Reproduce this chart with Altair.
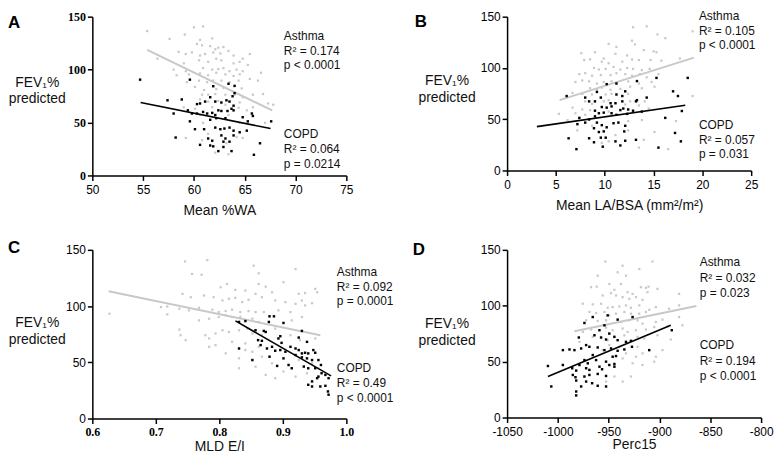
import altair as alt
import pandas as pd

# ---------------- data ----------------
# Panel A: Mean %WA vs FEV1 % predicted
A_ASTHMA = [(55.4,136.4),(60.0,139.9),(60.9,140.8),(59.1,133.1),(57.6,129.0),(60.6,128.1),(61.8,129.5),(60.3,124.2),(60.8,123.0),(61.6,122.2),
(62.1,119.2),(62.4,120.7),(62.9,121.3),(58.5,116.8),(59.2,114.7),(59.8,116.2),(60.6,113.3),(61.1,114.7),(61.9,116.2),(62.6,115.3),
(63.4,117.7),(63.9,113.3),(64.8,110.3),(65.5,114.7),(56.4,110.3),(59.0,105.9),(60.5,108.8),(61.4,107.3),(62.2,110.3),(62.7,108.8),
(63.9,105.9),(64.5,107.3),(65.3,104.4),(58.0,100.0),(59.2,98.5),(60.9,101.4),(61.8,100.0),(62.4,100.5),(62.9,101.4),(63.5,98.5),
(64.2,100.0),(64.8,98.5),(66.6,97.0),(58.3,94.6),(59.5,95.5),(60.6,96.4),(61.4,94.6),(62.2,97.0),(63.1,95.5),(63.9,94.0),
(64.5,95.5),(65.5,91.1),(66.3,89.6),(59.3,88.1),(60.5,89.6),(61.3,88.1),(61.9,89.6),(62.7,89.6),(63.5,88.1),(64.4,89.6),
(60.1,83.7),(61.0,80.7),(62.2,81.6),(62.9,82.8),(64.7,82.2),(65.8,76.3),(60.8,76.3),(61.4,76.3),(62.1,76.9),(63.1,76.3),
(64.0,76.3),(64.8,73.9),(66.8,76.9),(60.6,71.8),(61.4,69.8),(62.4,70.4),(63.1,66.8),(64.5,68.9),(67.3,68.0),(67.8,66.8),
(59.0,64.4),(60.1,63.0),(61.8,64.4),(64.4,63.9),(65.8,64.4),(60.6,57.1),(63.4,57.1),(65.2,61.5),(67.0,49.7),(60.9,49.7),
(64.5,49.7),(59.2,35.4),(61.4,39.3),(64.2,36.3),(60.8,33.4),(63.2,30.4),(64.8,35.4),(62.1,21.5),(63.4,20.1)]
A_COPD = [(54.7,90.5),(59.6,90.5),(61.9,84.3),(63.4,86.6),(64.0,84.6),(64.0,77.8),(63.8,74.8),(58.8,71.8),(57.4,71.0),(60.3,67.4),
(60.6,68.0),(61.1,69.8),(61.6,73.9),(62.1,69.8),(62.7,68.9),(63.2,71.0),(63.5,69.8),(63.9,65.9),(63.7,63.0),(63.9,61.5),
(63.3,60.9),(62.7,60.9),(62.4,61.5),(59.4,61.5),(59.8,58.5),(60.3,58.5),(60.9,60.0),(61.3,58.5),(61.8,59.1),(62.1,57.1),
(58.0,58.5),(61.6,52.6),(62.2,54.1),(63.1,54.1),(65.7,58.5),(65.8,56.2),(65.3,51.1),(64.8,55.0),(67.6,51.1),(59.6,51.1),
(60.1,43.7),(62.1,45.2),(62.6,43.7),(63.0,44.3),(63.5,45.2),(63.9,42.3),(64.5,40.8),(65.2,42.3),(62.7,37.8),(63.1,34.9),
(63.9,37.8),(58.2,35.8),(61.4,34.9),(61.8,32.8),(62.9,31.9),(63.5,31.9),(66.5,30.4),(60.6,28.9),(61.6,28.3),(61.9,27.5),
(62.9,26.9),(62.4,23.0),(63.7,23.0),(65.9,19.5),(61.0,43.7)]
A_FIT_ASTHMA = [(55.4,118.6),(67.7,61.5)]
A_FIT_COPD = [(54.75,68.9),(67.54,44.3)]
A_TEXT = ["Asthma","R² = 0.174","p < 0.0001","COPD","R² = 0.064","p = 0.0214"]
A_TEXT_Y = [127.5,113.4,100.3,35.6,21.6,7.5]
A_TEXT_X = 68.85

# Panel B: Mean LA/BSA
B_ASTHMA = [(12.9,139.7),(14.3,140.6),(15.4,132.7),(16.2,129.0),(19.0,135.7),(10.4,123.5),(12.8,126.6),(13.1,122.9),(11.2,120.5),(14.0,117.4),
(15.0,116.2),(15.3,115.3),(7.6,114.4),(9.0,115.3),(9.9,109.2),(11.1,113.8),(12.3,112.2),(7.9,107.7),(8.5,108.3),(9.7,106.1),
(10.4,104.6),(11.8,106.1),(12.8,108.3),(13.5,107.7),(14.7,107.7),(15.8,107.1),(17.7,109.2),(8.9,100.0),(9.4,98.5),(10.1,99.1),
(10.9,101.0),(11.6,98.5),(12.3,100.0),(12.9,99.1),(13.8,97.9),(14.6,99.1),(7.4,94.0),(8.0,94.9),(8.7,92.4),(9.6,93.0),
(10.6,93.0),(11.2,94.9),(12.1,94.0),(12.8,92.4),(13.6,94.0),(14.3,90.9),(15.5,94.0),(7.0,86.3),(7.7,87.8),(8.4,86.9),
(9.2,84.8),(9.9,86.3),(10.7,86.9),(12.4,86.9),(13.5,84.8),(14.8,86.3),(8.5,80.2),(9.2,78.7),(9.7,80.8),(10.6,78.7),
(11.6,79.6),(12.6,81.7),(13.8,80.2),(15.1,81.7),(6.7,75.6),(7.7,74.7),(8.7,74.1),(10.1,74.1),(10.7,74.7),(12.4,74.7),
(8.0,67.4),(8.7,65.0),(9.9,67.4),(10.4,68.6),(12.6,67.4),(14.1,67.4),(6.7,61.3),(7.7,59.5),(8.5,58.9),(10.4,57.4),
(12.1,64.4),(13.5,63.4),(14.5,60.4),(5.3,55.2),(7.0,55.8),(8.0,54.3),(8.7,43.6),(12.4,48.2),(13.8,49.1),(15.1,37.5),
(12.4,39.1),(11.1,34.5),(10.4,28.4),(14.0,29.9),(17.3,48.2),(19.0,72.6),(7.2,39.1),(6.2,49.1),(9.7,26.9),(16.5,20.8),
(13.5,22.3)]
B_COPD = [(6.1,72.6),(15.3,90.3),(18.5,90.3),(13.3,87.2),(10.2,84.2),(11.2,84.8),(17.0,77.2),(17.5,72.6),(8.0,71.1),(9.2,76.6),
(9.6,71.1),(11.2,74.1),(11.8,72.6),(12.1,77.2),(14.3,71.1),(13.3,68.6),(13.2,67.4),(8.4,67.4),(9.0,67.4),(10.6,65.6),
(11.1,65.6),(11.8,67.4),(9.7,61.9),(10.2,61.3),(10.7,62.5),(11.6,58.9),(11.9,60.4),(12.4,59.5),(12.9,58.3),(13.8,57.4),
(9.0,58.3),(9.4,55.8),(9.9,56.4),(10.7,55.8),(11.2,54.3),(12.3,55.2),(7.4,51.3),(8.4,49.7),(9.0,52.8),(17.9,58.0),
(16.2,51.3),(7.2,45.2),(8.0,46.7),(9.2,46.7),(9.7,44.2),(10.2,42.1),(10.9,46.1),(11.4,46.7),(12.1,43.6),(8.9,41.2),
(9.4,37.5),(9.9,38.1),(9.6,32.0),(10.1,32.0),(8.4,31.4),(6.3,31.4),(12.0,38.1),(17.2,36.6),(11.1,28.4),(12.1,29.0),
(13.2,29.9),(8.9,27.5),(11.6,24.4),(9.8,23.2),(15.5,22.3),(7.1,20.8),(17.8,28.4)]
B_FIT_ASTHMA = [(5.38,68.6),(19.14,110.1)]
B_FIT_COPD = [(3.05,42.8),(18.25,63.6)]
B_TEXT = ["Asthma","R² = 0.105","p < 0.0001","COPD","R² = 0.057","p = 0.031"]
B_TEXT_Y = [146.4,131.9,118.4,40.4,25.5,11.9]
B_TEXT_X = 19.65

# Panel C: MLD E/I
C_ASTHMA = [(0.746,139.7),(0.781,140.9),(0.854,135.9),(0.862,129.1),(0.920,132.9),(0.757,128.5),(0.772,127.9),(0.802,116.7),(0.812,119.7),(0.825,114.4),
(0.841,113.8),(0.862,119.7),(0.873,117.3),(0.883,112.3),(0.901,121.2),(0.925,110.9),(0.935,111.5),(0.951,115.3),(0.954,112.3),(0.742,110.9),
(0.755,107.9),(0.776,109.4),(0.791,107.9),(0.805,105.0),(0.815,106.5),(0.825,107.3),(0.836,103.5),(0.846,105.6),(0.857,110.9),(0.867,107.9),
(0.888,105.0),(0.904,103.5),(0.920,102.0),(0.930,105.0),(0.946,102.6),(0.708,99.1),(0.718,99.7),(0.737,97.6),(0.752,96.2),(0.768,98.5),
(0.789,96.8),(0.799,94.7),(0.810,95.6),(0.820,96.8),(0.833,94.7),(0.846,95.6),(0.857,94.7),(0.870,94.7),(0.893,96.2),(0.912,94.7),
(0.935,100.6),(0.627,93.2),(0.718,92.6),(0.768,87.3),(0.784,88.8),(0.799,90.3),(0.810,91.8),(0.820,90.3),(0.833,90.3),(0.852,88.8),
(0.862,85.9),(0.914,87.3),(0.930,90.3),(0.739,74.1),(0.747,69.7),(0.778,74.1),(0.784,71.2),(0.794,75.6),(0.805,78.5),(0.815,77.0),
(0.831,78.5),(0.844,80.0),(0.852,75.6),(0.888,80.0),(0.737,79.1),(0.794,65.3),(0.820,68.2),(0.841,66.8),(0.862,63.8),(0.852,59.4),
(0.867,55.0),(0.883,49.1),(0.857,46.2),(0.873,38.8),(0.888,35.9),(0.901,41.8),(0.920,37.3),(0.831,53.5),(0.831,44.7),(0.946,49.1),
(0.938,40.3),(0.956,44.7),(0.925,52.0),(0.912,74.1),(0.927,69.7),(0.951,71.2),(0.784,63.8),(0.810,57.9),(0.841,60.9),(0.867,74.1)]
C_COPD = [(0.879,90.9),(0.886,90.9),(0.878,85.9),(0.901,85.0),(0.841,86.7),(0.831,85.9),(0.870,77.9),(0.873,77.0),(0.896,73.2),(0.893,71.2),
(0.898,67.3),(0.930,77.9),(0.925,72.0),(0.938,68.2),(0.861,69.7),(0.867,69.1),(0.865,65.3),(0.875,62.3),(0.883,63.8),(0.888,60.3),
(0.896,60.9),(0.904,59.4),(0.912,63.8),(0.920,62.3),(0.925,60.9),(0.930,57.9),(0.935,58.5),(0.940,57.9),(0.948,60.9),(0.951,58.5),
(0.920,56.5),(0.930,54.4),(0.938,53.5),(0.946,52.0),(0.956,52.0),(0.960,47.6),(0.831,62.3),(0.879,55.0),(0.891,46.8),(0.909,47.6),
(0.914,44.7),(0.933,46.2),(0.940,44.7),(0.951,44.7),(0.961,40.3),(0.956,37.3),(0.967,38.8),(0.972,35.9),(0.954,35.9),(0.946,33.0),
(0.940,30.0),(0.946,28.5),(0.959,28.5),(0.967,29.1),(0.971,24.1),(0.972,21.2),(0.901,53.5),(0.857,78.5),(0.852,52.0)]
C_FIT_ASTHMA = [(0.6256,113.2),(0.959,74.1)]
C_FIT_COPD = [(0.8254,86.8),(0.976,37.9)]
C_TEXT = ["Asthma","R² = 0.092","p = 0.0001","COPD","R² = 0.49","p < 0.0001"]
C_TEXT_Y = [127.1,113.8,101.2,41.2,27.7,14.7]
C_TEXT_X = 0.985

# Panel D: Perc15
D_ASTHMA = [(-953.3,139.6),(-936.3,135.8),(-906.9,139.6),(-919.9,132.8),(-960.8,126.9),(-941.2,129.9),(-933.0,126.9),(-918.3,116.6),(-913.4,116.0),(-910.8,117.1),
(-967.3,116.6),(-961.8,117.1),(-949.4,119.5),(-944.4,114.2),(-937.9,119.5),(-931.4,112.1),(-926.5,110.6),(-911.8,112.1),(-902.0,115.1),(-880.7,110.6),
(-955.9,109.2),(-947.7,111.2),(-942.8,109.2),(-936.3,107.7),(-929.7,106.2),(-923.2,107.7),(-916.7,105.3),(-975.5,101.8),(-965.7,101.2),(-957.5,101.8),
(-951.0,98.2),(-946.1,98.8),(-939.5,99.4),(-933.0,100.3),(-928.1,98.2),(-919.9,100.3),(-910.1,96.4),(-903.6,98.8),(-890.5,97.3),(-880.7,100.3),
(-968.9,94.4),(-962.4,93.5),(-954.2,94.4),(-949.4,91.4),(-942.8,92.9),(-934.6,94.4),(-928.1,92.9),(-919.9,92.9),(-913.4,94.4),(-972.2,87.0),
(-960.8,86.4),(-952.6,87.0),(-937.9,85.5),(-929.7,87.0),(-921.6,87.0),(-916.7,84.0),(-903.6,85.5),(-897.1,87.6),(-880.7,89.9),(-967.3,78.7),
(-952.6,80.4),(-946.1,78.1),(-936.3,79.6),(-931.4,76.6),(-923.2,78.1),(-913.4,78.7),(-905.2,81.0),(-892.2,81.6),(-949.4,64.8),(-934.6,73.6),
(-921.6,72.2),(-915.0,70.7),(-902.0,73.6),(-888.9,69.8),(-978.8,67.7),(-939.5,63.3),(-921.6,63.3),(-916.7,57.4),(-903.6,54.4),(-897.1,60.3),
(-955.9,60.3),(-936.3,52.9),(-926.5,48.5),(-916.7,47.0),(-905.2,50.0),(-944.4,36.7),(-928.1,36.7),(-952.6,32.2),(-936.3,32.2),(-877.4,82.5),
(-965.7,72.2),(-975.5,76.6),(-951.0,69.2),(-933.0,57.4),(-923.2,54.4)]
D_COPD = [(-954.2,82.5),(-965.7,89.9),(-973.9,84.6),(-951.0,91.4),(-941.2,87.6),(-926.5,89.9),(-959.1,78.1),(-964.0,73.6),(-979.4,71.6),(-949.4,75.1),
(-944.4,72.2),(-957.5,71.6),(-952.6,69.8),(-941.2,69.2),(-933.0,67.7),(-928.1,68.6),(-988.6,60.9),(-995.1,60.3),(-983.7,60.3),(-977.1,61.8),
(-972.2,64.8),(-969.0,63.3),(-960.8,62.7),(-954.2,60.3),(-947.7,61.8),(-941.2,59.7),(-934.6,60.9),(-927.1,63.3),(-946.1,54.4),(-942.8,55.0),
(-965.7,55.9),(-973.9,51.4),(-962.4,51.4),(-952.6,50.0),(-949.4,47.0),(-944.4,47.9),(-978.8,47.0),(-970.6,48.5),(-985.9,44.1),(-982.0,42.0),
(-972.2,44.1),(-969.0,42.6),(-959.1,45.5),(-956.5,43.2),(-944.4,45.5),(-995.1,47.0),(-1009.8,46.1),(-985.3,38.1),(-982.7,36.1),(-973.9,36.7),
(-969.0,38.1),(-960.8,39.0),(-952.6,37.2),(-982.0,33.1),(-972.2,32.2),(-966.3,30.7),(-960.8,28.4),(-952.6,27.8),(-977.1,27.8),(-982.0,23.3),
(-982.0,19.8),(-1006.5,27.8),(-887.9,78.1),(-910.1,60.3)]
D_FIT_ASTHMA = [(-983.7,77.2),(-863.7,99.7)]
D_FIT_COPD = [(-1009.8,36.7),(-888.9,82.5)]
D_TEXT = ["Asthma","R² = 0.032","p = 0.023","COPD","R² = 0.194","p < 0.0001"]
D_TEXT_Y = [135.2,121.3,108.0,61.5,47.3,34.0]
D_TEXT_X = -860.4

Y_TICKS = [0, 50, 100, 150]
Y_TITLE = ["FEV\u2081%", "predicted"]

SANS = "Liberation Sans"
SERIF = "Liberation Serif"
GRAY_PT = "#c8c8c8"
GRAY_LINE = "#c8c8c8"


def df(points):
    return pd.DataFrame(points, columns=["x", "y"])


def panel(asthma, copd, fit_a, fit_c, xdom, xticks, xtitle, tx, ty, texts,
          letter, lx, ly, w, h, title_x, title_y, xlab_serif=False, ylab_serif=False,
          xfmt=None, xexpr=None, xtitle_pad=8, xlab_pad=4):
    xkw = dict(values=xticks, title=xtitle, labelPadding=xlab_pad, titlePadding=xtitle_pad,
               labelFlush=False)
    if xlab_serif:
        xkw.update(labelFont=SERIF, labelFontWeight="bold")
    if xfmt:
        xkw["format"] = xfmt
    if xexpr:
        xkw["labelExpr"] = xexpr
    ykw = dict(values=Y_TICKS, title=Y_TITLE, titleAngle=0, titleAlign="center",
               titleBaseline="top", titleX=title_x, titleY=title_y, titleLineHeight=17,
               labelPadding=2)
    if ylab_serif:
        ykw.update(labelFont=SERIF, labelFontWeight="bold")
    xaxis = alt.Axis(**xkw)
    yaxis = alt.Axis(**ykw)
    xs = alt.Scale(domain=xdom, nice=False, zero=False)
    ys = alt.Scale(domain=[0, 150], nice=False)
    X = alt.X("x:Q", scale=xs, axis=xaxis)
    Y = alt.Y("y:Q", scale=ys, axis=yaxis)

    pa = alt.Chart(df(asthma)).mark_square(size=5, color=GRAY_PT, opacity=1).encode(x=X, y=Y)
    la = alt.Chart(df(fit_a)).mark_line(color=GRAY_LINE, strokeWidth=2).encode(x=X, y=Y)
    pc = alt.Chart(df(copd)).mark_square(size=6, color="#000000", opacity=1).encode(x=X, y=Y)
    lc = alt.Chart(df(fit_c)).mark_line(color="#000000", strokeWidth=1.6).encode(x=X, y=Y)
    tdf = pd.DataFrame({"x": [tx] * len(texts), "y": ty, "t": texts})
    tt = alt.Chart(tdf).mark_text(align="left", baseline="alphabetic", fontSize=12,
                                  font=SANS, color="#111111").encode(x=X, y=Y, text="t:N")
    lt = alt.Chart(pd.DataFrame({"t": [letter]})).mark_text(
        align="left", baseline="alphabetic", fontSize=17, fontWeight="bold",
        font=SANS, color="#000000").encode(x=alt.value(lx), y=alt.value(ly), text="t:N")
    return alt.layer(pa, la, pc, lc, tt, lt).properties(width=w, height=h)


pA = panel(A_ASTHMA, A_COPD, A_FIT_ASTHMA, A_FIT_COPD, [50, 75], [50, 55, 60, 65, 70, 75],
           "Mean %WA", A_TEXT_X, A_TEXT_Y, A_TEXT, "A", -85, 11, 256, 160,
           title_x=-56, title_y=59, ylab_serif=True)
pB = panel(B_ASTHMA, B_COPD, B_FIT_ASTHMA, B_FIT_COPD, [0, 25], [0, 5, 10, 15, 20, 25],
           "Mean LA/BSA (mm²/m²)", B_TEXT_X, B_TEXT_Y, B_TEXT, "B", -93, 10, 246, 155,
           title_x=-61, title_y=57)
pC = panel(C_ASTHMA, C_COPD, C_FIT_ASTHMA, C_FIT_COPD, [0.6, 1.0], [0.6, 0.7, 0.8, 0.9, 1.0],
           "MLD E/I", C_TEXT_X, C_TEXT_Y, C_TEXT, "C", -85, 3, 256, 170,
           title_x=-56, title_y=66, xlab_serif=True, xfmt=".1f", xtitle_pad=2, xlab_pad=3)
pD = panel(D_ASTHMA, D_COPD, D_FIT_ASTHMA, D_FIT_COPD, [-1050, -800],
           [-1050, -1000, -950, -900, -850, -800],
           "Perc15", D_TEXT_X, D_TEXT_Y, D_TEXT, "D", -95, 5, 256, 169,
           title_x=-61, title_y=67, xexpr="'' + datum.value", xtitle_pad=0, xlab_pad=4)

chart = alt.concat(pA, pB, pC, pD, columns=2, spacing={"row": 75, "column": 162},
                   bounds="flush").properties(
    padding={"left": 0, "top": 0, "right": 0, "bottom": 0}
).configure_view(stroke=None).configure_axis(
    domainColor="#000000", domainWidth=1.5, tickColor="#000000", tickWidth=1.5,
    tickSize=5, labelColor="#000000", labelFontSize=12, labelFont=SANS,
    titleFont=SANS, titleFontSize=14, titleFontWeight="normal", titleColor="#111111",
    grid=False
)

chart.save("out.html", embed_options={"renderer": "svg", "actions": False})
